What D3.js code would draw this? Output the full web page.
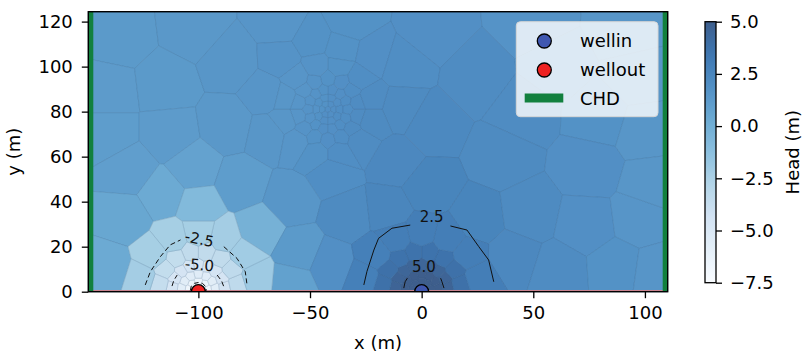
<!DOCTYPE html>
<html>
<head>
<meta charset="utf-8">
<script src="https://cdn.jsdelivr.net/npm/d3@7"></script>
<style>
  body { margin: 0; background: #fff; }
  text { font-family: "DejaVu Sans", sans-serif; }
</style>
</head>
<body>
<svg id="chart" width="804" height="352"></svg>
<script>
// axis setup
const xDomain = [-149.3, 110.2];
const yDomain = [0, 124.4];
const xTicks = [-100, -50, 0, 50, 100];
const yTicks = [0, 20, 40, 60, 80, 100, 120];
const headTicks = [-7.5, -5.0, -2.5, 0.0, 2.5, 5.0];
const headRange = [-7.5, 5.0];
// matplotlib "Blues" colormap nodes
const bluesNodes = ['#f7fbff', '#deebf7', '#c6dbef', '#9ecae1', '#6baed6', '#4292c6', '#2171b5', '#08519c', '#08306b'];

// voronoi cells: [x, y, head]
const farCells = [
  [-135, 113, 1.3], [-102, 117, 1.4], [-63, 119, 1.6], [-32, 120, 1.8], [4, 116, 1.9], [50, 120, 1.7], [92, 117, 1.5],
  [-140, 89, 1.2], [-115, 92, 1.3], [-85, 102, 1.5], [-62, 103, 1.7], [-49, 111, 1.8], [-36, 107, 1.8], [-22, 104, 1.9],
  [-9, 100, 2.0], [25, 95, 2.1], [60, 100, 1.8], [97, 95, 1.5],
  [-140, 70, 1.1], [-113, 70, 1.2], [-86.5, 74, 1.4], [-69, 88, 1.6], [-68, 70, 1.5], [-10, 82, 2.2], [45, 80, 2.1], [80, 78, 1.8],
  [-12, 58, 2.4], [4, 74, 2.3], [36, 60, 2.2], [75, 55, 1.9], [100, 72, 1.5],
  [-131, 54, 1.0], [-102, 55, 0.8], [-81, 48, 1.1], [-116, 43, 0.3], [-40, 53, 2.0],
  [-58.7, 40.8, 1.5], [-32.7, 34, 2.2], [-15, 36, 2.5], [3, 46, 2.6], [25, 32, 2.6], [48, 35, 2.2], [73.5, 29.6, 1.9],
  [98, 32.7, 1.6], [103, 47, 1.5],
  [-100, 37.6, -0.8], [-132.7, 32.7, 0.5], [-73, 27.4, -0.2],
  [-140, 10.5, 0.3], [-55, 17.6, 1.3], [-40.8, 11.8, 1.9], [-58, 4, 0.9],
  [40.4, 15.4, 2.4], [61.4, 8.8, 2.1], [87, 10.5, 1.8], [105, 8, 1.6]
];

const refineCells = [
  [-42, 81, 1.9],
  [-39.5, 81, 1.9], [-40.8, 83.2, 1.9], [-43.2, 83.2, 1.8], [-44.5, 81, 1.8], [-43.2, 78.8, 1.9], [-40.8, 78.8, 1.9],
  [-37, 81, 2.0], [-38, 84, 1.9], [-40.5, 85.8, 1.9], [-43.5, 85.8, 1.8], [-46, 84, 1.8], [-47, 81, 1.7],
  [-46, 78, 1.8], [-43.5, 76.2, 1.9], [-40.5, 76.2, 1.9], [-38, 78, 2.0],
  [-33.5, 81, 2.0], [-34.4, 84.7, 2.0], [-36.7, 87.6, 1.9], [-40.1, 89.3, 1.9], [-43.9, 89.3, 1.8], [-47.3, 87.6, 1.7],
  [-49.6, 84.7, 1.7], [-50.5, 81, 1.7], [-49.6, 77.3, 1.7], [-47.3, 74.4, 1.8], [-43.9, 72.7, 1.9], [-40.1, 72.7, 1.9],
  [-36.7, 74.4, 2.0], [-34.4, 77.3, 2.0],
  [-29.3, 83.9, 2.1], [-31.9, 89.2, 2.0], [-36.3, 92.7, 1.9], [-42, 94, 1.8], [-47.7, 92.7, 1.7], [-52.1, 89.2, 1.6],
  [-54.7, 83.9, 1.6], [-54.7, 78.1, 1.6], [-52.1, 72.8, 1.7], [-47.7, 69.3, 1.8], [-42, 68, 1.9], [-36.3, 69.3, 2.0],
  [-31.9, 72.8, 2.1], [-29.3, 78.1, 2.1],
  [-23.6, 85.9, 2.1], [-28.6, 94.4, 2.0], [-37.1, 99.4, 1.8], [-46.9, 99.4, 1.7], [-55.4, 94.4, 1.6], [-60.4, 85.9, 1.5],
  [-60.4, 76.1, 1.5], [-55.4, 67.6, 1.6], [-46.9, 62.6, 1.8], [-37.1, 62.6, 2.0], [-28.6, 67.6, 2.1], [-23.6, 76.1, 2.2]
];

const welloutCells = [
  [-98.3, 1, -7.4], [-100, 2, -7.3], [-101.7, 1, -7.4],
  [-95.7, 1.2, -6.6], [-97.1, 3.4, -6.5], [-100, 4.5, -6.4], [-102.9, 3.4, -6.5], [-104.3, 1.2, -6.6],
  [-92.7, 1.6, -5.7], [-94, 4.5, -5.6], [-96.6, 6.7, -5.5], [-100, 7.5, -5.5], [-103.4, 6.7, -5.5], [-106, 4.5, -5.6], [-107.3, 1.6, -5.7],
  [-88.7, 2, -4.6], [-90, 5.8, -4.6], [-92.6, 8.8, -4.5], [-96.1, 10.8, -4.5], [-100, 11.5, -4.5], [-103.9, 10.8, -4.5],
  [-107.4, 8.8, -4.6], [-110, 5.8, -4.7], [-111.3, 2, -4.7],
  [-83.3, 3.2, -3.4], [-85.9, 9.5, -3.4], [-90.5, 14.1, -3.5], [-96.8, 16.7, -3.5], [-103.2, 16.7, -3.5], [-109.5, 14.1, -3.6],
  [-114.1, 9.5, -3.6], [-116.7, 3.2, -3.7],
  [-75.6, 5.6, -2.0], [-80.6, 15.7, -2.1], [-89, 22.5, -2.2], [-100, 25, -2.3], [-111, 22.5, -2.3], [-119.4, 15.7, -2.3], [-124.4, 5.6, -2.2]
];

const wellinCells = [
  [1.7, 1, 6.6], [0, 2, 6.7], [-1.7, 1, 6.6],
  [4.3, 1.2, 6.0], [2.9, 3.4, 6.0], [0, 4.5, 5.9], [-2.9, 3.4, 6.0], [-4.3, 1.2, 6.0],
  [7.3, 1.6, 5.4], [6, 4.5, 5.3], [3.4, 6.7, 5.3], [0, 7.5, 5.2], [-3.4, 6.7, 5.3], [-6, 4.5, 5.3], [-7.3, 1.6, 5.4],
  [11.3, 2, 4.6], [10, 5.8, 4.6], [7.4, 8.8, 4.5], [3.9, 10.8, 4.5], [0, 11.5, 4.5], [-3.9, 10.8, 4.5],
  [-7.4, 8.8, 4.5], [-10, 5.8, 4.6], [-11.3, 2, 4.6],
  [16.7, 3.2, 3.8], [14.1, 9.5, 3.8], [9.5, 14.1, 3.7], [3.2, 16.7, 3.7], [-3.2, 16.7, 3.7], [-9.5, 14.1, 3.7],
  [-14.1, 9.5, 3.8], [-16.7, 3.2, 3.8],
  [24.4, 5.6, 3.0], [19.4, 15.7, 3.0], [11, 22.5, 3.0], [0, 25, 3.0], [-11, 22.5, 3.0], [-19.4, 15.7, 2.9], [-24.4, 5.6, 2.9]
];

// contour lines: level, label, label position, label angle, segments
const contours = [
  { level: -7.5, label: null, segs: [[[-103.6, 0.5], [-103.2, 2.4], [-101.8, 3.7], [-100, 4.1], [-98.2, 3.7], [-96.8, 2.4], [-96.4, 0.5]]] },
  { level: -5.0, label: '-5.0', at: [-99.5, 12], angle: 5,
    segs: [[[-111.8, 2.5], [-111, 5], [-109.5, 7.4]], [[-91.6, 7.4], [-89.6, 4.8], [-88.6, 2.2]]] },
  { level: -2.5, label: '-2.5', at: [-99.5, 23.5], angle: 12,
    segs: [[[-123.8, 3], [-121.5, 8.9], [-117, 15.6], [-112.6, 20.8], [-108, 23]],
           [[-88.6, 20], [-82.7, 14.8], [-79, 8.9], [-78.2, 3]]] },
  { level: 2.5, label: '2.5', at: [4.5, 33.3], angle: 0,
    segs: [[[-25.9, 3], [-24.5, 9], [-21.4, 18.5], [-19.3, 23.7], [-13.3, 28.2], [-5.1, 29.6]],
           [[12.9, 29.2], [20.3, 27.4], [25.6, 20], [30, 14.1], [32.3, 4.4]]] },
  { level: 5.0, label: '5.0', at: [1, 11], angle: 0,
    segs: [[[-8, 1.6], [-7.4, 4.4], [-6.4, 6]], [[8.5, 6], [9.1, 4.4], [10, 1.6]]] }
];

const wells = [
  { name: 'wellin', x: 0, y: 0, fill: '#3f57b0' },
  { name: 'wellout', x: -100, y: 0, fill: '#ee2222' }
];
const chdX = [-149.3, 110.2];

const svg = d3.select('#chart');
const x = d3.scaleLinear().domain(xDomain).range([88.3, 667.7]);
const y = d3.scaleLinear().domain(yDomain).range([291.7, 11.7]);
const blues = d3.scaleLinear()
  .domain(d3.range(bluesNodes.length).map(i => headRange[0] + i * (headRange[1] - headRange[0]) / (bluesNodes.length - 1)))
  .range(bluesNodes)
  .clamp(true);
const color = v => d3.interpolateRgb('#ffffff', blues(v))(0.78);

const fontSize = '18px';

svg.append('defs').append('clipPath').attr('id', 'plotclip')
  .append('rect')
  .attr('x', x(xDomain[0])).attr('y', y(yDomain[1]))
  .attr('width', x(xDomain[1]) - x(xDomain[0]))
  .attr('height', y(yDomain[0]) - y(yDomain[1]));

// Add cells
const cells = [...farCells, ...refineCells, ...welloutCells, ...wellinCells];
const delaunay = d3.Delaunay.from(cells, d => x(d[0]), d => y(d[1]));
const voronoi = delaunay.voronoi([x(xDomain[0]), y(yDomain[1]), x(xDomain[1]), y(yDomain[0])]);
svg.append('g')
  .selectAll('path')
  .data(cells)
  .join('path')
  .attr('d', (d, i) => voronoi.renderCell(i))
  .attr('fill', d => color(d[2]))
  .attr('stroke', d => d3.interpolateRgb(color(d[2]), '#23476e')(0.22))
  .attr('stroke-width', 0.7);

const plot = svg.append('g').attr('clip-path', 'url(#plotclip)');

// bottom boundary line
plot.append('line')
  .attr('x1', x(xDomain[0])).attr('x2', x(xDomain[1]))
  .attr('y1', y(0) - 1.2).attr('y2', y(0) - 1.2)
  .attr('stroke', '#c9828e').attr('stroke-width', 1.2);

// CHD lines
plot.selectAll('line.chd')
  .data(chdX)
  .join('line')
  .attr('class', 'chd')
  .attr('x1', d => x(d)).attr('x2', d => x(d))
  .attr('y1', y(yDomain[0])).attr('y2', y(yDomain[1]))
  .attr('stroke', '#12803e').attr('stroke-width', 10);

// Add contours
const line = d3.line().x(d => x(d[0])).y(d => y(d[1]));
contours.forEach(c => {
  plot.append('g')
    .selectAll('path')
    .data(c.segs)
    .join('path')
    .attr('d', line)
    .attr('fill', 'none')
    .attr('stroke', '#111')
    .attr('stroke-width', 1)
    .attr('stroke-dasharray', c.level < 0 ? '5,3' : null);
  if (c.label) {
    plot.append('text')
      .attr('transform', `translate(${x(c.at[0])},${y(c.at[1])}) rotate(${c.angle})`)
      .attr('text-anchor', 'middle')
      .attr('dy', '0.36em')
      .attr('font-size', '15px')
      .attr('fill', '#111')
      .text(c.label);
  }
});

// Add wells
plot.selectAll('circle.well')
  .data(wells)
  .join('circle')
  .attr('class', 'well')
  .attr('cx', d => x(d.x))
  .attr('cy', d => y(d.y))
  .attr('r', 7)
  .attr('fill', d => d.fill)
  .attr('stroke', '#000')
  .attr('stroke-width', 1.3);

// spines
svg.append('rect')
  .attr('x', x(xDomain[0])).attr('y', y(yDomain[1]))
  .attr('width', x(xDomain[1]) - x(xDomain[0]))
  .attr('height', y(yDomain[0]) - y(yDomain[1]))
  .attr('fill', 'none').attr('stroke', '#000').attr('stroke-width', 1.4);

// Add X axis
const gx = svg.append('g')
  .attr('transform', `translate(0,${y(yDomain[0])})`)
  .call(d3.axisBottom(x).tickValues(xTicks).tickSize(6.5).tickPadding(8).tickSizeOuter(0));
// Add Y axis
const gy = svg.append('g')
  .attr('transform', `translate(${x(xDomain[0])},0)`)
  .call(d3.axisLeft(y).tickValues(yTicks).tickSize(6.5).tickPadding(9).tickSizeOuter(0));
[gx, gy].forEach(g => {
  g.select('.domain').remove();
  g.selectAll('line').attr('stroke', '#000').attr('stroke-width', 1.3);
  g.selectAll('text').attr('font-size', fontSize).attr('font-family', '"DejaVu Sans", sans-serif').attr('fill', '#000');
});

svg.append('text')
  .attr('x', (x(xDomain[0]) + x(xDomain[1])) / 2).attr('y', 349)
  .attr('text-anchor', 'middle').attr('font-size', fontSize)
  .text('x (m)');
svg.append('text')
  .attr('transform', `translate(20,${(y(yDomain[0]) + y(yDomain[1])) / 2}) rotate(-90)`)
  .attr('text-anchor', 'middle').attr('font-size', fontSize)
  .text('y (m)');

// Add legend
const legend = svg.append('g');
legend.append('rect')
  .attr('x', 516.3).attr('y', 21.7).attr('width', 141.7).attr('height', 95).attr('rx', 4)
  .attr('fill', '#fff').attr('fill-opacity', 0.8)
  .attr('stroke', '#d6d6d6').attr('stroke-width', 1);
wells.forEach((w, i) => {
  legend.append('circle')
    .attr('cx', 544.3).attr('cy', 41 + i * 29).attr('r', 7)
    .attr('fill', w.fill).attr('stroke', '#000').attr('stroke-width', 1.3);
  legend.append('text')
    .attr('x', 580).attr('y', 47 + i * 29).attr('font-size', fontSize)
    .text(w.name);
});
legend.append('line')
  .attr('x1', 524.7).attr('x2', 563.3).attr('y1', 98).attr('y2', 98)
  .attr('stroke', '#12803e').attr('stroke-width', 9);
legend.append('text')
  .attr('x', 580).attr('y', 105).attr('font-size', fontSize)
  .text('CHD');

// Add colorbar
const cb = d3.scaleLinear().domain(headRange).range([282.7, 21.7]);
const grad = svg.select('defs').append('linearGradient')
  .attr('id', 'cbgrad').attr('x1', 0).attr('y1', 1).attr('x2', 0).attr('y2', 0);
grad.selectAll('stop')
  .data(d3.range(0, 1.0001, 0.05))
  .join('stop')
  .attr('offset', d => d)
  .attr('stop-color', d => color(headRange[0] + d * (headRange[1] - headRange[0])));
svg.append('rect')
  .attr('x', 705).attr('y', cb.range()[1]).attr('width', 11)
  .attr('height', cb.range()[0] - cb.range()[1])
  .attr('fill', 'url(#cbgrad)').attr('stroke', '#000').attr('stroke-width', 1.3);
const gc = svg.append('g')
  .attr('transform', 'translate(716,0)')
  .call(d3.axisRight(cb).tickValues(headTicks).tickFormat(d3.format('.1f')).tickSize(6).tickPadding(8).tickSizeOuter(0));
gc.select('.domain').remove();
gc.selectAll('line').attr('stroke', '#000').attr('stroke-width', 1.3);
gc.selectAll('text').attr('font-size', fontSize).attr('font-family', '"DejaVu Sans", sans-serif').attr('fill', '#000');
svg.append('text')
  .attr('transform', `translate(799,${(cb.range()[0] + cb.range()[1]) / 2}) rotate(-90)`)
  .attr('text-anchor', 'middle').attr('font-size', fontSize)
  .text('Head (m)');
</script>
</body>
</html>
